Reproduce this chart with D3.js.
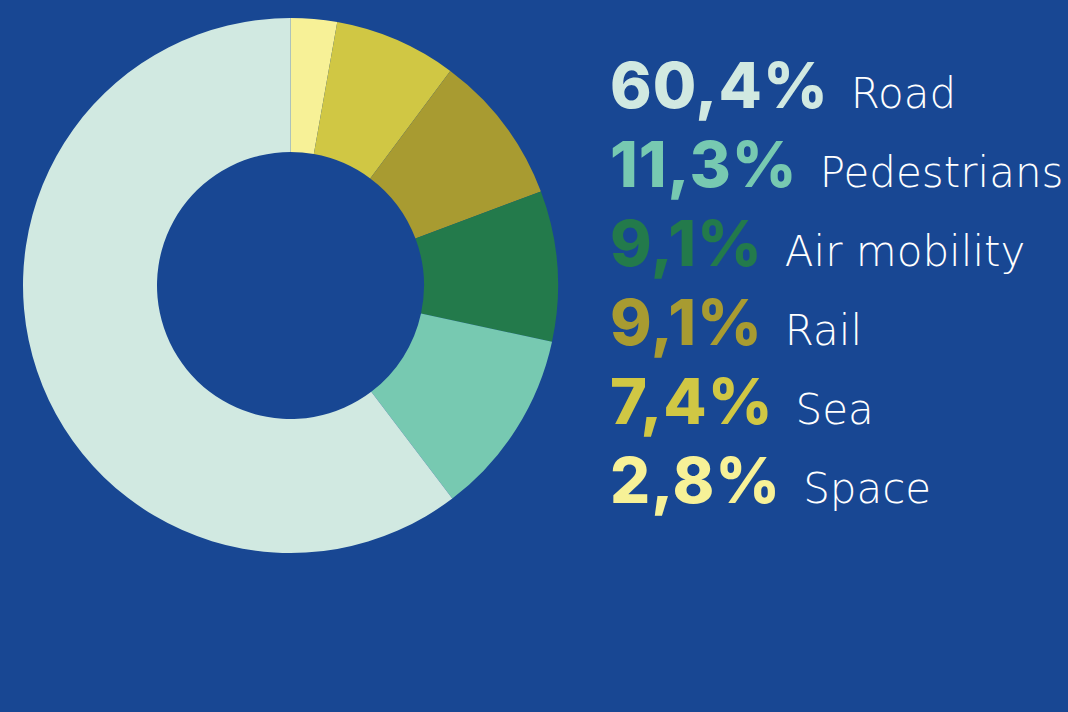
<!DOCTYPE html>
<html>
<head>
<meta charset="utf-8">
<script src="https://cdn.jsdelivr.net/npm/d3@7"></script>
<style>
  html, body { margin: 0; padding: 0; background: #184793; }
  svg { display: block; }
  .pct { font-variant-numeric: proportional-nums; font-feature-settings: "pnum" 1; }
</style>
</head>
<body>
<div id="chart"></div>
<script>
// data (legend order, top to bottom)
var categories = ["Road", "Pedestrians", "Air mobility", "Rail", "Sea", "Space"];
var values = [60.4, 11.3, 9.1, 9.1, 7.4, 2.8];
var labels = ["60,4%", "11,3%", "9,1%", "9,1%", "7,4%", "2,8%"];
var colors = ["#d1e9e1", "#77c9b1", "#237a4b", "#a89b31", "#d0c744", "#f7f197"];

var width = 1068, height = 712;

var svg = d3.select("#chart")
  .append("svg")
  .attr("width", width)
  .attr("height", height);

svg.append("rect")
  .attr("width", width)
  .attr("height", height)
  .attr("fill", "#184793");

// donut, slices clockwise from the top starting with Space
var data = categories.map((c, i) => ({ name: c, value: values[i], color: colors[i] })).reverse();

var pie = d3.pie().sort(null).value((d) => d.value);
var arc = d3.arc().innerRadius(133.5).outerRadius(267.5);

var g = svg.append("g").attr("transform", "translate(290.5, 285.5)");

g.selectAll(".slice")
  .data(pie(data))
  .join("path")
  .attr("class", "slice")
  .attr("d", arc)
  .attr("fill", (d) => d.data.color);

// legend
var legend = svg.append("g").attr("transform", "translate(610, 0)");

var rowY = d3.scalePoint().domain(categories).range([108, 503]);

var rows = legend.selectAll(".row")
  .data(categories)
  .join("g")
  .attr("class", "row")
  .attr("transform", (d) => `translate(0, ${rowY(d)})`);

rows.append("text")
  .attr("class", "pct")
  .attr("font-family", "Inter, 'Open Sans', sans-serif")
  .attr("font-weight", 800)
  .attr("font-size", 63)
  .attr("letter-spacing", 1)
  .attr("fill", (d, i) => colors[i])
  .text((d, i) => labels[i]);

// label starts a fixed gap after the percentage
rows.append("text")
  .attr("x", function () {
    var pct = d3.select(this.parentNode).select(".pct").node();
    return pct.getComputedTextLength() + 22;
  })
  .attr("font-family", "'DejaVu Sans ExtraLight', 'DejaVu Sans', sans-serif")
  .attr("font-weight", 200)
  .attr("font-size", 42)
  .attr("fill", "#ffffff")
  .text((d) => d);
</script>
</body>
</html>
